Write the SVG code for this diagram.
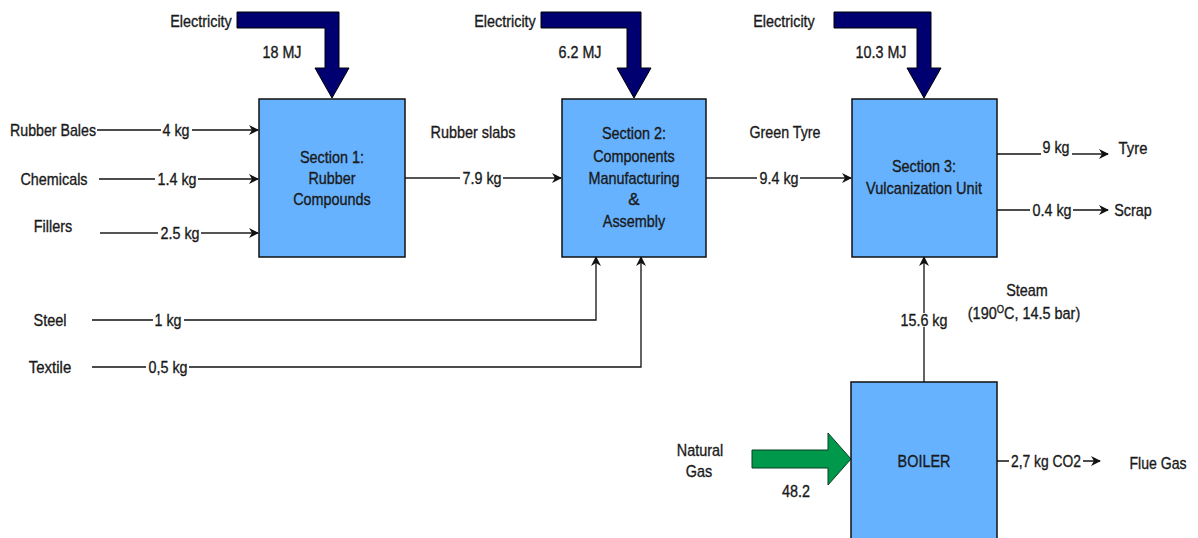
<svg xmlns="http://www.w3.org/2000/svg" width="1198" height="538" viewBox="0 0 1198 538">
  <style>
    text { font-family: "Liberation Sans", Arial, sans-serif; font-size: 17px; fill: #1a1a1a; stroke: #1a1a1a; stroke-width: 0.35; text-anchor: middle; }
    .box { fill: #66B2FF; stroke: #111; stroke-width: 1.5; }
    .power { fill: #000070; stroke: #000; stroke-width: 1; }
    .gas { fill: #00994C; stroke: #0a3d1f; stroke-width: 1; }
    .flow { fill: none; stroke: #111; stroke-width: 1.3; }
    .flow2 { fill: none; stroke: #555; stroke-width: 2.2; }
    .gap { fill: #fff; }
  </style>
  <defs>
    <marker id="arr" viewBox="0 0 10 10" refX="9" refY="5" markerWidth="10" markerHeight="10" markerUnits="userSpaceOnUse" orient="auto">
      <path d="M0,0 L10,5 L0,10 L3,5 Z" fill="#111"/>
    </marker>
  </defs>
  <rect width="1198" height="538" fill="#fff"/>

  <!-- electricity supply arrows -->
  <g id="electricity">
    <polygon class="power" points="237,12 339,12 339,68 349,68 332,98 315,68 325,68 325,28 237,28"/>
    <polygon class="power" points="541,12 641,12 641,68 651,68 634,98 617,68 627,68 627,28 541,28"/>
    <polygon class="power" points="834,12 931,12 931,68 941,68 924,98 907,68 917,68 917,28 834,28"/>
    <text x="201" y="27" textLength="61.6" lengthAdjust="spacingAndGlyphs">Electricity</text>
    <text x="282" y="58" textLength="39" lengthAdjust="spacingAndGlyphs">18 MJ</text>
    <text x="505" y="27" textLength="61.6" lengthAdjust="spacingAndGlyphs">Electricity</text>
    <text x="580" y="58" textLength="43" lengthAdjust="spacingAndGlyphs">6.2 MJ</text>
    <text x="784" y="27" textLength="61.6" lengthAdjust="spacingAndGlyphs">Electricity</text>
    <text x="881" y="58" textLength="51" lengthAdjust="spacingAndGlyphs">10.3 MJ</text>
  </g>

  <!-- connectors -->
  <g id="connectors">
    <path class="flow" d="M97,130 H258" marker-end="url(#arr)"/>
    <path class="flow" d="M99,179 H258" marker-end="url(#arr)"/>
    <path class="flow2" d="M100,233 H258" marker-end="url(#arr)"/>
    <path class="flow2" d="M405,178 H561" marker-end="url(#arr)"/>
    <path class="flow2" d="M706,178 H851" marker-end="url(#arr)"/>
    <path class="flow" d="M92,320 H596 V257" marker-end="url(#arr)"/>
    <path class="flow" d="M92,367 H641 V257" marker-end="url(#arr)"/>
    <path class="flow" d="M997,154 H1050"/>
    <path class="flow2" d="M1050,154 H1108" marker-end="url(#arr)"/>
    <path class="flow" d="M997,210 H1108" marker-end="url(#arr)"/>
    <path class="flow" d="M924,382 V257" marker-end="url(#arr)"/>
    <path class="flow" d="M997,461 H1100" marker-end="url(#arr)"/>
    <polygon class="gas" points="752,450 828,450 828,433 851,459 828,485 828,468 752,468"/>

    <!-- flow quantities, set on a white gap in the line -->
    <rect class="gap" x="161" y="123" width="31" height="14"/>
    <text x="176" y="136" textLength="27" lengthAdjust="spacingAndGlyphs">4 kg</text>
    <rect class="gap" x="155" y="172" width="43" height="14"/>
    <text x="177" y="185" textLength="39" lengthAdjust="spacingAndGlyphs">1.4 kg</text>
    <rect class="gap" x="158" y="226" width="43" height="14"/>
    <text x="180" y="239" textLength="39" lengthAdjust="spacingAndGlyphs">2.5 kg</text>
    <rect class="gap" x="460" y="171" width="43" height="14"/>
    <text x="482" y="184" textLength="39" lengthAdjust="spacingAndGlyphs">7.9 kg</text>
    <rect class="gap" x="757" y="171" width="43" height="14"/>
    <text x="779" y="184" textLength="39" lengthAdjust="spacingAndGlyphs">9.4 kg</text>
    <rect class="gap" x="153" y="313" width="31" height="14"/>
    <text x="168" y="326" textLength="27" lengthAdjust="spacingAndGlyphs">1 kg</text>
    <rect class="gap" x="146" y="360" width="43" height="14"/>
    <text x="168" y="373" textLength="39" lengthAdjust="spacingAndGlyphs">0,5 kg</text>
    <rect class="gap" x="1041" y="141" width="31" height="15"/>
    <text x="1056" y="153" textLength="27" lengthAdjust="spacingAndGlyphs">9 kg</text>
    <rect class="gap" x="1030" y="203" width="43" height="14"/>
    <text x="1052" y="216" textLength="39" lengthAdjust="spacingAndGlyphs">0.4 kg</text>
    <rect class="gap" x="899" y="313" width="50" height="14"/>
    <text x="924" y="326" textLength="47" lengthAdjust="spacingAndGlyphs">15.6 kg</text>
    <rect class="gap" x="1009" y="454" width="74" height="14"/>
    <text x="1046" y="467" textLength="70" lengthAdjust="spacingAndGlyphs">2,7 kg CO2</text>
  </g>

  <!-- stream labels -->
  <g id="streams">
    <text x="53" y="136" textLength="86" lengthAdjust="spacingAndGlyphs">Rubber Bales</text>
    <text x="54" y="185" textLength="67" lengthAdjust="spacingAndGlyphs">Chemicals</text>
    <text x="53" y="232" textLength="38.4" lengthAdjust="spacingAndGlyphs">Fillers</text>
    <text x="473" y="138" textLength="85" lengthAdjust="spacingAndGlyphs">Rubber slabs</text>
    <text x="785" y="138" textLength="71" lengthAdjust="spacingAndGlyphs">Green Tyre</text>
    <text x="50" y="326" textLength="33" lengthAdjust="spacingAndGlyphs">Steel</text>
    <text x="50" y="373" textLength="42.4" lengthAdjust="spacingAndGlyphs">Textile</text>
    <text x="1133" y="154" textLength="28.8" lengthAdjust="spacingAndGlyphs">Tyre</text>
    <text x="1133" y="216" textLength="37.6" lengthAdjust="spacingAndGlyphs">Scrap</text>
    <text x="1027" y="296" textLength="41.6" lengthAdjust="spacingAndGlyphs">Steam</text>
    <text transform="translate(1024,319) scale(0.85,1)">(190<tspan font-size="11" dy="-6">O</tspan><tspan dy="6">C, 14.5 bar)</tspan></text>
    <text x="700" y="456" textLength="46.4" lengthAdjust="spacingAndGlyphs">Natural</text>
    <text x="699" y="477" textLength="26.4" lengthAdjust="spacingAndGlyphs">Gas</text>
    <text x="796" y="497" textLength="28" lengthAdjust="spacingAndGlyphs">48.2</text>
    <text x="1158" y="469" textLength="57" lengthAdjust="spacingAndGlyphs">Flue Gas</text>
  </g>

  <!-- process units -->
  <g id="section1">
    <rect class="box" x="259" y="99" width="146" height="158"/>
    <text x="332" y="163" textLength="64" lengthAdjust="spacingAndGlyphs">Section 1:</text>
    <text x="332" y="184" textLength="47" lengthAdjust="spacingAndGlyphs">Rubber</text>
    <text x="332" y="205" textLength="77.6" lengthAdjust="spacingAndGlyphs">Compounds</text>
  </g>
  <g id="section2">
    <rect class="box" x="562" y="99" width="144" height="158"/>
    <text x="634" y="139" textLength="64" lengthAdjust="spacingAndGlyphs">Section 2:</text>
    <text x="634" y="162" textLength="81.6" lengthAdjust="spacingAndGlyphs">Components</text>
    <text x="634" y="184" textLength="91.2" lengthAdjust="spacingAndGlyphs">Manufacturing</text>
    <text x="634" y="205">&amp;</text>
    <text x="634" y="227" textLength="62.4" lengthAdjust="spacingAndGlyphs">Assembly</text>
  </g>
  <g id="section3">
    <rect class="box" x="852" y="99" width="145" height="158"/>
    <text x="924" y="172" textLength="64" lengthAdjust="spacingAndGlyphs">Section 3:</text>
    <text x="924" y="194" textLength="116" lengthAdjust="spacingAndGlyphs">Vulcanization Unit</text>
  </g>
  <g id="boiler">
    <rect class="box" x="851" y="382" width="146" height="170"/>
    <text x="924" y="467" textLength="52.8" lengthAdjust="spacingAndGlyphs">BOILER</text>
  </g>
</svg>
